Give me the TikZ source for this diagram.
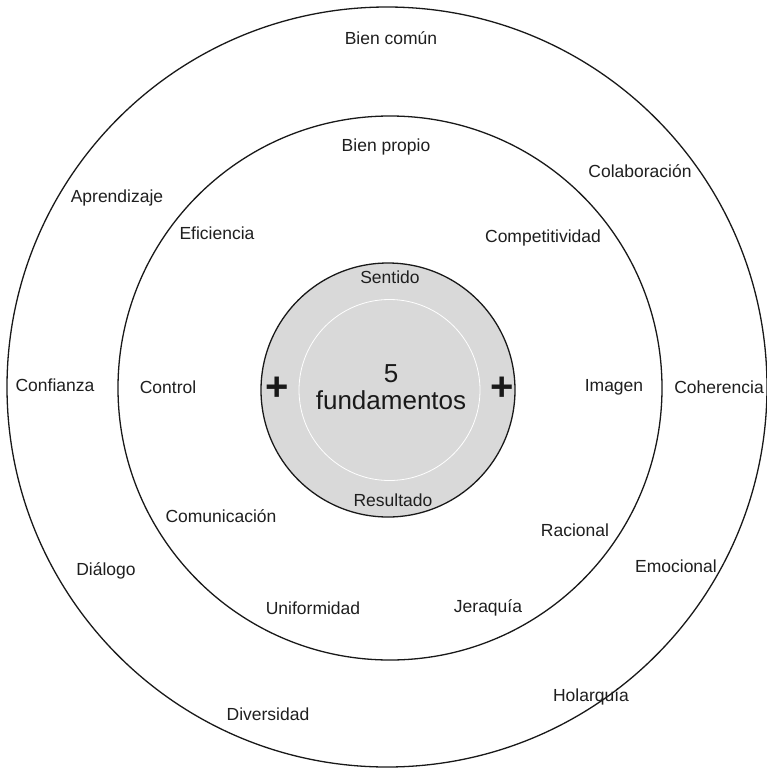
\documentclass[tikz,border=0pt]{standalone}
\usepackage{fontspec}
\setmainfont{Liberation Sans}
\begin{document}
\begin{tikzpicture}[x=1pt,y=-1pt,
  lbl/.style={font=\fontsize{17.5}{20}\selectfont, text=black!88, inner sep=0pt, anchor=center},
  ring/.style={draw=black!90, line width=1.3pt},
  plus/.style={inner sep=0pt, text=black!90, font=\fontsize{40}{42}\selectfont}]
\useasboundingbox (0,0) rectangle (767,772);
\fill[white] (0,0) rectangle (767,772);
% circles
\draw[ring] (387,387) circle[radius=380];
\draw[ring] (390,388) circle[radius=272];
\draw[ring, fill=black!15] (388,390) circle[radius=127];
\draw[white, line width=0.8pt] (389.5,390) circle[radius=90.5];
% outer ring labels
\node[lbl] (bc) at (391,38) {Bien común};
\node[lbl] (col) at (640,171) {Colaboración};
\node[lbl] (apr) at (117,198) {Aprendizaje};
\node[lbl] (conf) at (55,385) {Confianza};
\node[lbl] (coh) at (719,387) {Coherencia};
\node[lbl] (dia) at (106,571) {Diálogo};
\node[lbl] (emo) at (676,566) {Emocional};
\node[lbl] (hol) at (591,697) {Holarquía};
\node[lbl] (div) at (268,714) {Diversidad};
% inner ring labels
\node[lbl] (bp) at (386,147) {Bien propio};
\node[lbl] (efi) at (217,233) {Eficiencia};
\node[lbl] (comp) at (543,238) {Competitividad};
\node[lbl] (ctl) at (168,387) {Control};
\node[lbl] (img) at (614,387) {Imagen};
\node[lbl] (com) at (221,516) {Comunicación};
\node[lbl] (rac) at (575,530) {Racional};
\node[lbl] (uni) at (313,608) {Uniformidad};
\node[lbl] (jer) at (488,608) {Jeraquía};
% core
\node[lbl] (sen) at (390,277) {Sentido};
\node[lbl] (res) at (393,500) {Resultado};
\node[inner sep=0pt, text=black!90, font=\fontsize{26}{29}\selectfont, align=center] (five) at (391,387) {5\\[-2pt]fundamentos};
\node[plus] (pl) at (277,389) {\textbf{+}};
\node[plus] (pr) at (502,389) {\textbf{+}};
\end{tikzpicture}
\end{document}
